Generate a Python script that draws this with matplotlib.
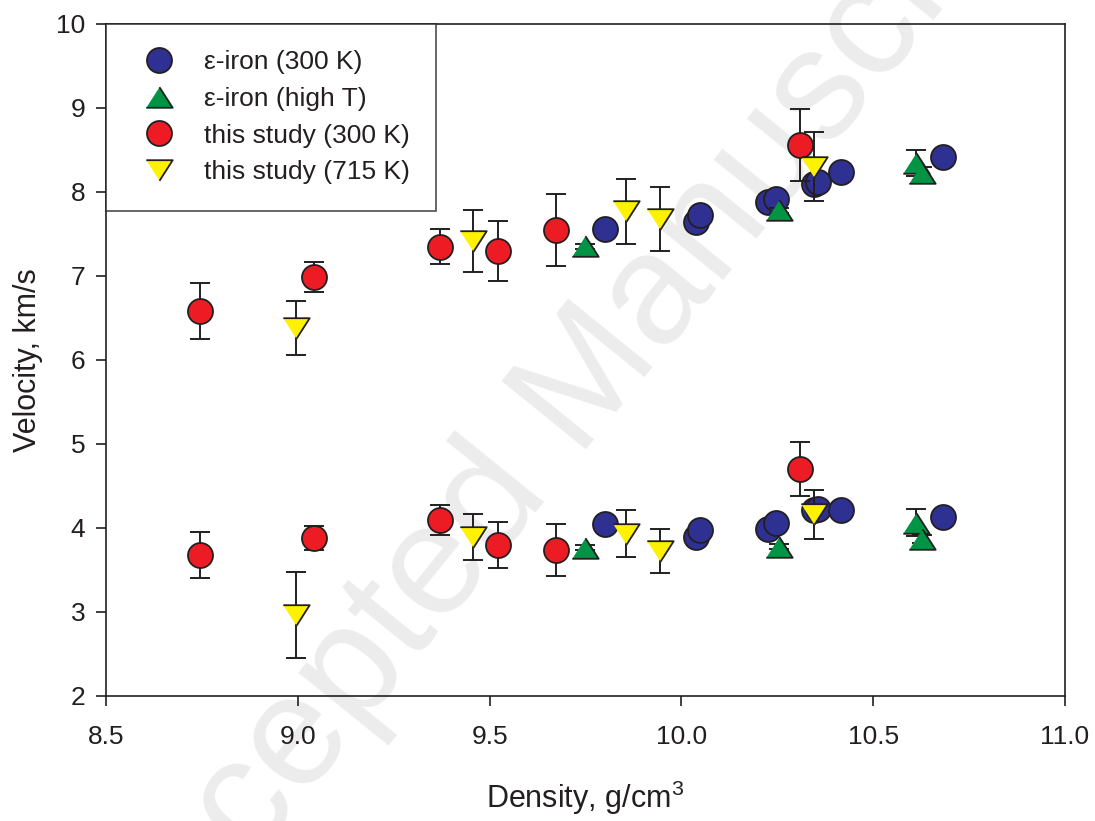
import matplotlib
matplotlib.use('Agg')
import matplotlib.pyplot as plt

# Data: density (g/cm^3), Vp (upper group), Vs (lower group), km/s.
rho_fe300 = [9.802, 10.039, 10.049, 10.226, 10.247, 10.345, 10.356, 10.415, 10.681]
vp_fe300 = [7.56, 7.646, 7.726, 7.885, 7.917, 8.10, 8.12, 8.242, 8.42]
vs_fe300 = [4.044, 3.896, 3.976, 3.985, 4.056, 4.21, 4.22, 4.214, 4.135]

rho_fehot = [9.748, 10.255, 10.612, 10.628]
vp_fehot = [7.354, 7.782, 8.345, 8.222]
vp_fehot_err = [0.03, 0.03, 0.15, 0.08]
vs_fehot = [3.764, 3.774, 4.06, 3.867]
vs_fehot_err = [0.03, 0.03, 0.16, 0.05]

rho_300 = [8.744, 9.043, 9.370, 9.522, 9.673, 10.31]
vp_300 = [6.583, 6.99, 7.35, 7.298, 7.548, 8.56]
vp_300_err = [0.33, 0.18, 0.21, 0.355, 0.43, 0.43]
vs_300 = [3.679, 3.881, 4.095, 3.798, 3.734, 4.699]
vs_300_err = [0.27, 0.145, 0.18, 0.27, 0.31, 0.32]

rho_715 = [8.996, 9.456, 9.856, 9.943, 10.345]
vp_715 = [6.381, 7.42, 7.768, 7.679, 8.298]
vp_715_err = [0.32, 0.37, 0.39, 0.38, 0.41]
vs_715 = [2.964, 3.893, 3.929, 3.726, 4.161]
vs_715_err = [0.51, 0.27, 0.28, 0.26, 0.29]

ink = '#231f20'
tri_up = [(-1, -0.78), (1, -0.78), (0, 0.78)]
tri_down = [(-1, 0.78), (1, 0.78), (0, -0.78)]

plt.rcParams['font.family'] = ['Liberation Sans', 'DejaVu Sans']
plt.rcParams['mathtext.fontset'] = 'custom'
plt.rcParams['mathtext.rm'] = 'Liberation Sans'

fig = plt.figure(figsize=(10.95, 8.21), dpi=100)
ax = fig.add_axes([0.0968, 0.1523, 0.8758, 0.8185])
ax.patch.set_alpha(0)

# Faint watermark behind everything.
fig.text(0.52, 0.505, 'Accepted Manuscript', rotation=51, fontsize=114,
         color='#ececec', ha='center', va='center', zorder=-5)

err_kw = dict(fmt='none', ecolor=ink, elinewidth=1.4, capsize=7, capthick=1.4)
mk_kw = dict(linestyle='none', markeredgecolor=ink, markeredgewidth=1.3)

series = [
    (rho_fe300, vp_fe300, vs_fe300, None, None, 'o', 18, '#2e3192', 'ε-iron (300 K)'),
    (rho_fehot, vp_fehot, vs_fehot, vp_fehot_err, vs_fehot_err, tri_up, 19, '#009444', 'ε-iron (high T)'),
    (rho_300, vp_300, vs_300, vp_300_err, vs_300_err, 'o', 18, '#ed1c24', 'this study (300 K)'),
    (rho_715, vp_715, vs_715, vp_715_err, vs_715_err, tri_down, 19, '#fff200', 'this study (715 K)'),
]

z = 3
for rho, vp, vs, vp_err, vs_err, marker, ms, color, label in series:
    if vp_err is not None:
        ax.errorbar(rho, vp, yerr=vp_err, zorder=z, **err_kw)
        ax.errorbar(rho, vs, yerr=vs_err, zorder=z, **err_kw)
    ax.plot(rho, vp, marker=marker, ms=ms, color=color, label=label, zorder=z + 1, **mk_kw)
    ax.plot(rho, vs, marker=marker, ms=ms, color=color, zorder=z + 1, **mk_kw)
    z += 2

ax.set_xlim(8.5, 11.0)
ax.set_ylim(2, 10)
ax.set_xticks([8.5, 9.0, 9.5, 10.0, 10.5, 11.0])
ax.set_xticklabels(['8.5', '9.0', '9.5', '10.0', '10.5', '11.0'])
ax.set_yticks(range(2, 11))

for side in ax.spines.values():
    side.set_color(ink)
    side.set_linewidth(1.2)
ax.tick_params(direction='out', length=7, width=1.2, colors=ink,
               labelsize=19, top=False, right=False)
ax.tick_params(axis='x', pad=14)
ax.tick_params(axis='y', pad=8)

ax.set_xlabel('Density, g/cm$^3$', fontsize=22, color=ink, labelpad=21)
ax.set_ylabel('Velocity, km/s', fontsize=22, color=ink, labelpad=9)

leg = ax.legend(loc='upper left', bbox_to_anchor=(0, 1), borderaxespad=0,
                fontsize=19, frameon=True, fancybox=False, edgecolor=ink,
                handletextpad=0.7, borderpad=1.0, labelspacing=0.48,
                handlelength=2.0, numpoints=1)
leg.get_frame().set_linewidth(1.2)
for t in leg.get_texts():
    t.set_color(ink)

fig.savefig('out.png', dpi=100)
